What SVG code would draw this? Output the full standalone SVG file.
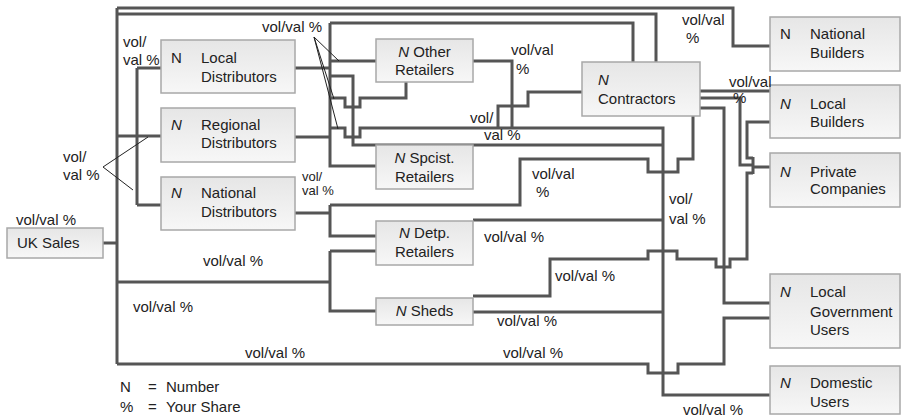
<svg xmlns="http://www.w3.org/2000/svg" width="902" height="418" viewBox="0 0 902 418">
<defs>
<linearGradient id="g" x1="0" y1="0" x2="0" y2="1">
<stop offset="0" stop-color="#e6e6e6"/>
<stop offset="1" stop-color="#f7f7f7"/>
</linearGradient>
<style>
.box{fill:url(#g);stroke:#a8a8a8;stroke-width:1.5}
.ln{fill:none;stroke:#555;stroke-width:3;stroke-linejoin:miter}
.co{fill:none;stroke:#222;stroke-width:1}
text{font-family:"Liberation Sans",Arial,sans-serif;font-size:15px;fill:#222}
.sm{font-size:13px}
.i{font-style:italic}
</style>
</defs>
<rect width="902" height="418" fill="#fff"/>
<g id="connectors">
<path class="ln" d="M103,243 H117 M117,8 V364"/>
<path class="ln" d="M117,8 H733 V46 H770"/>
<path class="ln" d="M117,14 H656 V62"/>
<path class="ln" d="M117,136 H161 M137,68 V205 M137,68 H161 M137,205 H161"/>
<path class="ln" d="M330,23 H633 V62 M330,23 V166 H376"/>
<path class="ln" d="M295,68 H330 M295,137 H330 M330,61 H376"/>
<path class="ln" d="M330,76 H353 V145 H663"/>
<path class="ln" d="M330,98 H345 V107 H360 V98 H406 V82"/>
<path class="ln" d="M330,128 H345 V137 H360 V128 H663 V395 H770"/>
<path class="ln" d="M473,61 H512 V128"/>
<path class="ln" d="M582,92 H528 V106 H498 V128"/>
<path class="ln" d="M295,213 H330 M330,205 V236 H376 M330,205 H520 V159 H648 V172 H678 V159 H693 V116"/>
<path class="ln" d="M473,220 H663"/>
<path class="ln" d="M117,282 H330 M330,251 V311 H376 M330,251 H376"/>
<path class="ln" d="M473,312 H663"/>
<path class="ln" d="M473,296 H550 V259 H648 V251 H677 V259 H716 V267 H730 V259 H747 V173 H753"/>
<path class="ln" d="M117,364 H648 V373 H678 V364 H724 V318 H770"/>
<path class="ln" d="M700,91 H770"/>
<path class="ln" d="M700,98 H740 V165 H753"/>
<path class="ln" d="M700,108 H724 V303 H770"/>
<path class="ln" d="M770,122 H747 V158 H753 M753,157 V174 M753,167 H770"/>
<path class="co" d="M103,167 L148,137 M103,167 L133,190"/>
<path class="co" d="M314,37 L339,61 M314,37 L334,99 M314,37 L338,129"/>
</g>
<g id="uk-sales"><rect class="box" x="7" y="228" width="96" height="30"/><text x="17" y="248">UK Sales</text></g>
<g id="local-distributors"><rect class="box" x="161" y="40" width="134" height="53"/><text x="171" y="63">N</text><text x="201" y="63">Local</text><text x="201" y="82">Distributors</text></g>
<g id="regional-distributors"><rect class="box" x="161" y="108" width="134" height="54"/><text class="i" x="171" y="130">N</text><text x="201" y="130">Regional</text><text x="201" y="148">Distributors</text></g>
<g id="national-distributors"><rect class="box" x="161" y="177" width="134" height="53"/><text class="i" x="171" y="198">N</text><text x="201" y="198">National</text><text x="201" y="217">Distributors</text></g>
<g id="other-retailers"><rect class="box" x="376" y="39" width="97" height="43"/><text x="424.500" y="57" text-anchor="middle"><tspan class="i">N</tspan> Other</text><text x="424.500" y="75" text-anchor="middle">Retailers</text></g>
<g id="spcist-retailers"><rect class="box" x="376" y="145" width="97" height="44"/><text x="424.500" y="163" text-anchor="middle"><tspan class="i">N</tspan> Spcist.</text><text x="424.500" y="182" text-anchor="middle">Retailers</text></g>
<g id="detp-retailers"><rect class="box" x="376" y="221" width="97" height="44"/><text x="424.500" y="238" text-anchor="middle"><tspan class="i">N</tspan> Detp.</text><text x="424.500" y="257" text-anchor="middle">Retailers</text></g>
<g id="sheds"><rect class="box" x="376" y="298" width="97" height="27"/><text x="424.500" y="316" text-anchor="middle"><tspan class="i">N</tspan> Sheds</text></g>
<g id="contractors"><rect class="box" x="582" y="62" width="118" height="54"/><text class="i" x="598" y="85">N</text><text x="598" y="104">Contractors</text></g>
<g id="national-builders"><rect class="box" x="770" y="17" width="130" height="54"/><text x="780" y="39">N</text><text x="810" y="39">National</text><text x="810" y="58">Builders</text></g>
<g id="local-builders"><rect class="box" x="770" y="85" width="130" height="53"/><text class="i" x="780" y="109">N</text><text x="810" y="109">Local</text><text x="810" y="127">Builders</text></g>
<g id="private-companies"><rect class="box" x="770" y="153" width="130" height="54"/><text class="i" x="780" y="177">N</text><text x="810" y="177">Private</text><text x="810" y="194">Companies</text></g>
<g id="local-government-users"><rect class="box" x="770" y="274" width="130" height="74"/><text class="i" x="780" y="297">N</text><text x="810" y="297">Local</text><text x="810" y="317">Government</text><text x="810" y="335">Users</text></g>
<g id="domestic-users"><rect class="box" x="770" y="366" width="130" height="48"/><text class="i" x="780" y="388">N</text><text x="810" y="388">Domestic</text><text x="810" y="407">Users</text></g>
<g id="labels">
<text x="16" y="225">vol/val %</text>
<text x="63" y="162">vol/</text><text x="63" y="180">val %</text>
<text x="123" y="47">vol/</text><text x="123" y="65">val %</text>
<text x="262" y="32">vol/val %</text>
<text x="511" y="55">vol/val</text><text x="516" y="74">%</text>
<text x="470" y="123">vol/</text><text x="484" y="140">val %</text>
<text x="682" y="25">vol/val</text><text x="686" y="43">%</text>
<text x="729" y="87">vol/val</text><text x="733" y="103">%</text>
<text class="sm" x="302" y="181">vol/</text><text class="sm" x="302" y="195">val %</text>
<text x="532" y="179">vol/val</text><text x="536" y="197">%</text>
<text x="669" y="204">vol/</text><text x="669" y="224">val %</text>
<text x="484" y="242">vol/val %</text>
<text x="203" y="266">vol/val %</text>
<text x="555" y="281">vol/val %</text>
<text x="133" y="312">vol/val %</text>
<text x="497" y="326">vol/val %</text>
<text x="245" y="358">vol/val %</text>
<text x="503" y="358">vol/val %</text>
<text x="683" y="415">vol/val %</text>
<text x="120" y="392">N</text><text x="148" y="392">=</text><text x="166" y="392">Number</text>
<text x="120" y="412">%</text><text x="148" y="412">=</text><text x="166" y="412">Your Share</text>
</g>
</svg>
